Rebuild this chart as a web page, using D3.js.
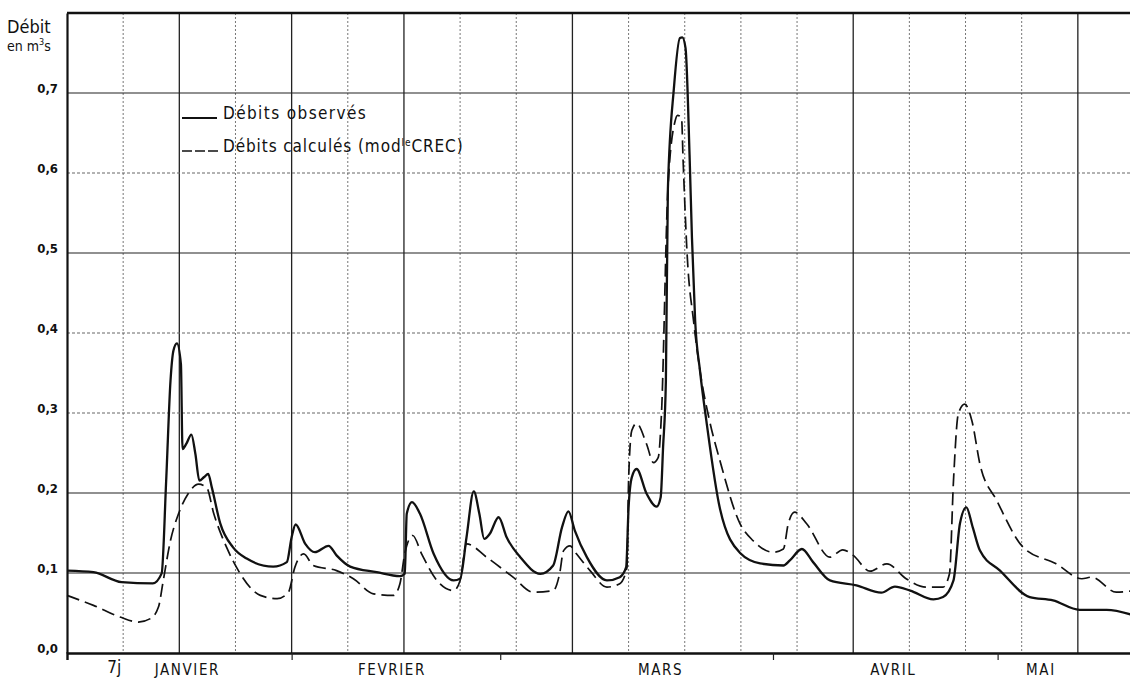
<!DOCTYPE html>
<html lang="fr">
  <head>
    <meta charset="UTF-8" />
    <title>Débits observés et calculés</title>
    <style>
      body { margin: 0; background: #fff; }
      text { font-family: "DejaVu Sans Condensed", "DejaVu Sans", sans-serif; fill: #111; }
    </style>
  </head>
  <body>
    <script src="https://d3js.org/d3.v7.min.js"></script>
    <script>
      // débits en m3/s, abscisse en jours depuis le début du graphique
      const observed = [
        [0, 0.103], [3.3, 0.101], [6.8, 0.0886], [10.7, 0.087], [11.8, 0.0995],
        [12.36, 0.215], [12.9, 0.34], [13.27, 0.378], [13.7, 0.387], [14.2, 0.361],
        [14.4, 0.255], [14.9, 0.262], [15.5, 0.273], [16.0, 0.249], [16.5, 0.2155],
        [17.1, 0.22], [17.6, 0.224], [18.05, 0.207], [19.1, 0.162], [20.7, 0.132],
        [22.4, 0.118], [25.7, 0.108], [27.4, 0.1136], [28.0, 0.1447], [28.5, 0.1606],
        [29.7, 0.1365], [30.9, 0.126], [32.6, 0.134], [33.6, 0.122], [35.3, 0.108],
        [38.6, 0.101], [41.5, 0.096], [42.1, 0.099], [42.35, 0.174], [43.0, 0.1885],
        [44.0, 0.174], [45.7, 0.124], [48.2, 0.0907], [49.0, 0.0928], [49.8, 0.1447],
        [50.7, 0.202], [51.4, 0.174], [52.0, 0.1427], [52.7, 0.149], [53.8, 0.1697],
        [54.8, 0.1447], [56.5, 0.1198], [59.0, 0.099], [60.6, 0.1094], [61.7, 0.157],
        [62.5, 0.177], [63.3, 0.153], [64.8, 0.1198], [67.3, 0.0907], [68.9, 0.0948],
        [69.7, 0.1073], [70.0, 0.182], [70.4, 0.2196], [71.0, 0.23], [72.25, 0.199],
        [73.5, 0.183], [74.0, 0.1947], [74.3, 0.257], [74.65, 0.34], [74.9, 0.58],
        [75.65, 0.706], [76.4, 0.7687], [76.7, 0.7695], [77.1, 0.756], [77.6, 0.623],
        [77.9, 0.519], [78.3, 0.415], [78.9, 0.353], [79.7, 0.29], [81.4, 0.18],
        [83.9, 0.125], [86.4, 0.112], [89.3, 0.1094], [90.1, 0.1157], [91.6, 0.13],
        [93.0, 0.1136], [95.1, 0.0907], [98.4, 0.0845], [101.5, 0.0754], [103.2, 0.083],
        [105.1, 0.078], [108.0, 0.067], [109.2, 0.0699], [110.5, 0.0907], [111.3, 0.1615],
        [112.1, 0.182], [112.9, 0.157], [113.8, 0.128], [116.3, 0.103], [120.0, 0.0699],
        [122.9, 0.0658], [126.2, 0.054], [129.6, 0.054], [133, 0.047]
      ];

      const computed = [
        [0, 0.072], [3.3, 0.0595], [6.6, 0.045], [8.9, 0.0387], [10.4, 0.043],
        [11.4, 0.0574], [12.0, 0.0907], [12.9, 0.1406], [13.9, 0.174], [15.1, 0.199],
        [16.4, 0.211], [17.4, 0.207], [18.3, 0.174], [19.9, 0.132], [21.6, 0.099],
        [24.1, 0.072], [26.2, 0.0679], [27.6, 0.076], [28.4, 0.107], [29.5, 0.124],
        [30.7, 0.1094], [33.6, 0.103], [35.7, 0.0928], [38.2, 0.074], [40.7, 0.072],
        [41.5, 0.0866], [42.1, 0.124], [43.1, 0.1469], [44.2, 0.124], [46.1, 0.0907],
        [48.2, 0.078], [49.0, 0.0907], [49.8, 0.1365], [52.3, 0.1198], [55.6, 0.0948],
        [58.1, 0.076], [60.6, 0.078], [61.4, 0.099], [61.9, 0.128], [62.7, 0.134],
        [63.5, 0.124], [65.2, 0.103], [67.3, 0.0824], [68.9, 0.0866], [69.8, 0.107],
        [70.0, 0.2155], [70.4, 0.278], [71.0, 0.287], [72.25, 0.261], [73.1, 0.238],
        [73.7, 0.2446], [74.1, 0.299], [74.9, 0.58], [75.8, 0.665], [76.1, 0.672],
        [76.6, 0.669], [76.8, 0.615], [77.3, 0.498], [78.1, 0.415], [78.9, 0.353],
        [80.1, 0.29], [81.4, 0.24], [83.9, 0.1615], [85.5, 0.1406], [88.0, 0.126],
        [89.3, 0.13], [89.9, 0.1615], [90.7, 0.176], [92.2, 0.1615], [95.1, 0.1198],
        [96.7, 0.129], [98.0, 0.122], [100.1, 0.1023], [102.2, 0.1115], [104.6, 0.0928],
        [107.1, 0.0824], [109.2, 0.0824], [110.0, 0.099], [110.5, 0.2155], [111.1, 0.299],
        [111.9, 0.311], [112.8, 0.29], [113.8, 0.236], [115.9, 0.1905], [119.2, 0.132],
        [123.3, 0.1115], [126.5, 0.0928], [127.7, 0.0948], [130.8, 0.076], [133, 0.078]
      ];

      const yTicks = [0, 0.1, 0.2, 0.3, 0.4, 0.5, 0.6, 0.7];
      const yMajor = [0.1, 0.2, 0.5, 0.7];
      const weekLines = d3.range(1, 19).map((k) => k * 7);
      const weekMajor = [14, 28, 42, 63, 98, 126];
      const monthTicks = [28, 54, 88, 116];
      const monthNames = ["JANVIER", "FEVRIER", "MARS", "AVRIL", "MAI"];
      const monthCentres = [15, 40.5, 74, 103, 121.4];

      const width = 1130;
      const height = 681;

      const svg = d3
        .select("body")
        .append("svg")
        .attr("width", width)
        .attr("height", height);

      const x = d3.scaleLinear().domain([0, 133]).range([67, 1134]);
      const y = d3.scaleLinear().domain([0, 0.8]).range([653, 13]);

      // quadrillage
      const grid = svg.append("g");
      grid
        .selectAll("line.v")
        .data(weekLines)
        .join("line")
        .attr("x1", (d) => x(d))
        .attr("x2", (d) => x(d))
        .attr("y1", y(0.8))
        .attr("y2", y(0))
        .attr("stroke", (d) => (weekMajor.includes(d) ? "#222" : "#777"))
        .attr("stroke-width", (d) => (weekMajor.includes(d) ? 1.3 : 1))
        .attr("stroke-dasharray", (d) => (weekMajor.includes(d) ? null : "2,2"));

      grid
        .selectAll("line.h")
        .data(yTicks.slice(1))
        .join("line")
        .attr("x1", x(0))
        .attr("x2", width)
        .attr("y1", (d) => y(d))
        .attr("y2", (d) => y(d))
        .attr("stroke", (d) => (yMajor.includes(d) ? "#222" : "#666"))
        .attr("stroke-width", (d) => (yMajor.includes(d) ? 1.2 : 1))
        .attr("stroke-dasharray", (d) => (yMajor.includes(d) ? null : "3,2"));

      // axes et cadre
      const yAxis = svg
        .append("g")
        .attr("transform", `translate(${x(0)},0)`)
        .call(
          d3.axisLeft(y)
            .tickValues(yTicks)
            .tickSize(0)
            .tickPadding(9)
            .tickFormat((d) => d3.format(".1f")(d).replace(".", ","))
        );
      yAxis.select(".domain").attr("stroke", "#111").attr("stroke-width", 2.2);
      yAxis
        .selectAll("text")
        .attr("font-size", 13)
        .attr("font-weight", "bold")
        .attr("font-family", "DejaVu Sans")
        .attr("dy", "-0.05em");

      const xAxis = svg
        .append("g")
        .attr("transform", `translate(0,${y(0)})`)
        .call(d3.axisBottom(x).tickValues(monthTicks).tickSize(7).tickFormat(""));
      xAxis.select(".domain").attr("stroke", "#111").attr("stroke-width", 2.4);
      xAxis.selectAll(".tick line").attr("stroke", "#222").attr("stroke-width", 1.2);

      svg
        .append("line")
        .attr("x1", x(0))
        .attr("x2", width)
        .attr("y1", y(0.8))
        .attr("y2", y(0.8))
        .attr("stroke", "#111")
        .attr("stroke-width", 2.4);

      // courbes
      const line = d3
        .line()
        .x((d) => x(d[0]))
        .y((d) => y(d[1]))
        .curve(d3.curveMonotoneX);

      svg
        .append("path")
        .datum(computed)
        .attr("d", line)
        .attr("fill", "none")
        .attr("stroke", "#111")
        .attr("stroke-width", 1.7)
        .attr("stroke-dasharray", "13,6");

      svg
        .append("path")
        .datum(observed)
        .attr("d", line)
        .attr("fill", "none")
        .attr("stroke", "#111")
        .attr("stroke-width", 2.3);

      // libellés
      svg
        .selectAll("text.month")
        .data(monthNames)
        .join("text")
        .attr("x", (d, i) => x(monthCentres[i]))
        .attr("y", 675)
        .attr("text-anchor", "middle")
        .attr("font-size", 15)
        .attr("letter-spacing", 1.6)
        .text((d) => d);

      svg
        .append("text")
        .attr("x", x(5.9))
        .attr("y", 673)
        .attr("text-anchor", "middle")
        .attr("font-size", 17)
        .text("7j");

      svg.append("text").attr("x", 7).attr("y", 33).attr("font-size", 18).text("Débit");
      const unit = svg.append("text").attr("x", 7).attr("y", 51).attr("font-size", 14);
      unit.append("tspan").text("en m");
      unit.append("tspan").attr("font-size", 9).attr("dy", -6).text("3");
      unit.append("tspan").attr("dy", 6).text("s");

      // légende
      const legend = svg.append("g");
      legend
        .append("line")
        .attr("x1", 182)
        .attr("x2", 217)
        .attr("y1", 118)
        .attr("y2", 118)
        .attr("stroke", "#111")
        .attr("stroke-width", 1.8);
      legend
        .append("text")
        .attr("x", 223)
        .attr("y", 119)
        .attr("font-size", 17)
        .attr("letter-spacing", 1.4)
        .text("Débits observés");

      legend
        .append("line")
        .attr("x1", 182)
        .attr("x2", 221)
        .attr("y1", 151)
        .attr("y2", 151)
        .attr("stroke", "#111")
        .attr("stroke-width", 1.6)
        .attr("stroke-dasharray", "10,3");
      const calc = legend
        .append("text")
        .attr("x", 223)
        .attr("y", 152)
        .attr("font-size", 17)
        .attr("letter-spacing", 0.9);
      calc.append("tspan").text("Débits calculés (mod");
      calc.append("tspan").attr("font-size", 10).attr("dy", -6).text("le");
      calc.append("tspan").attr("dy", 6).text("CREC)");
    </script>
  </body>
</html>
